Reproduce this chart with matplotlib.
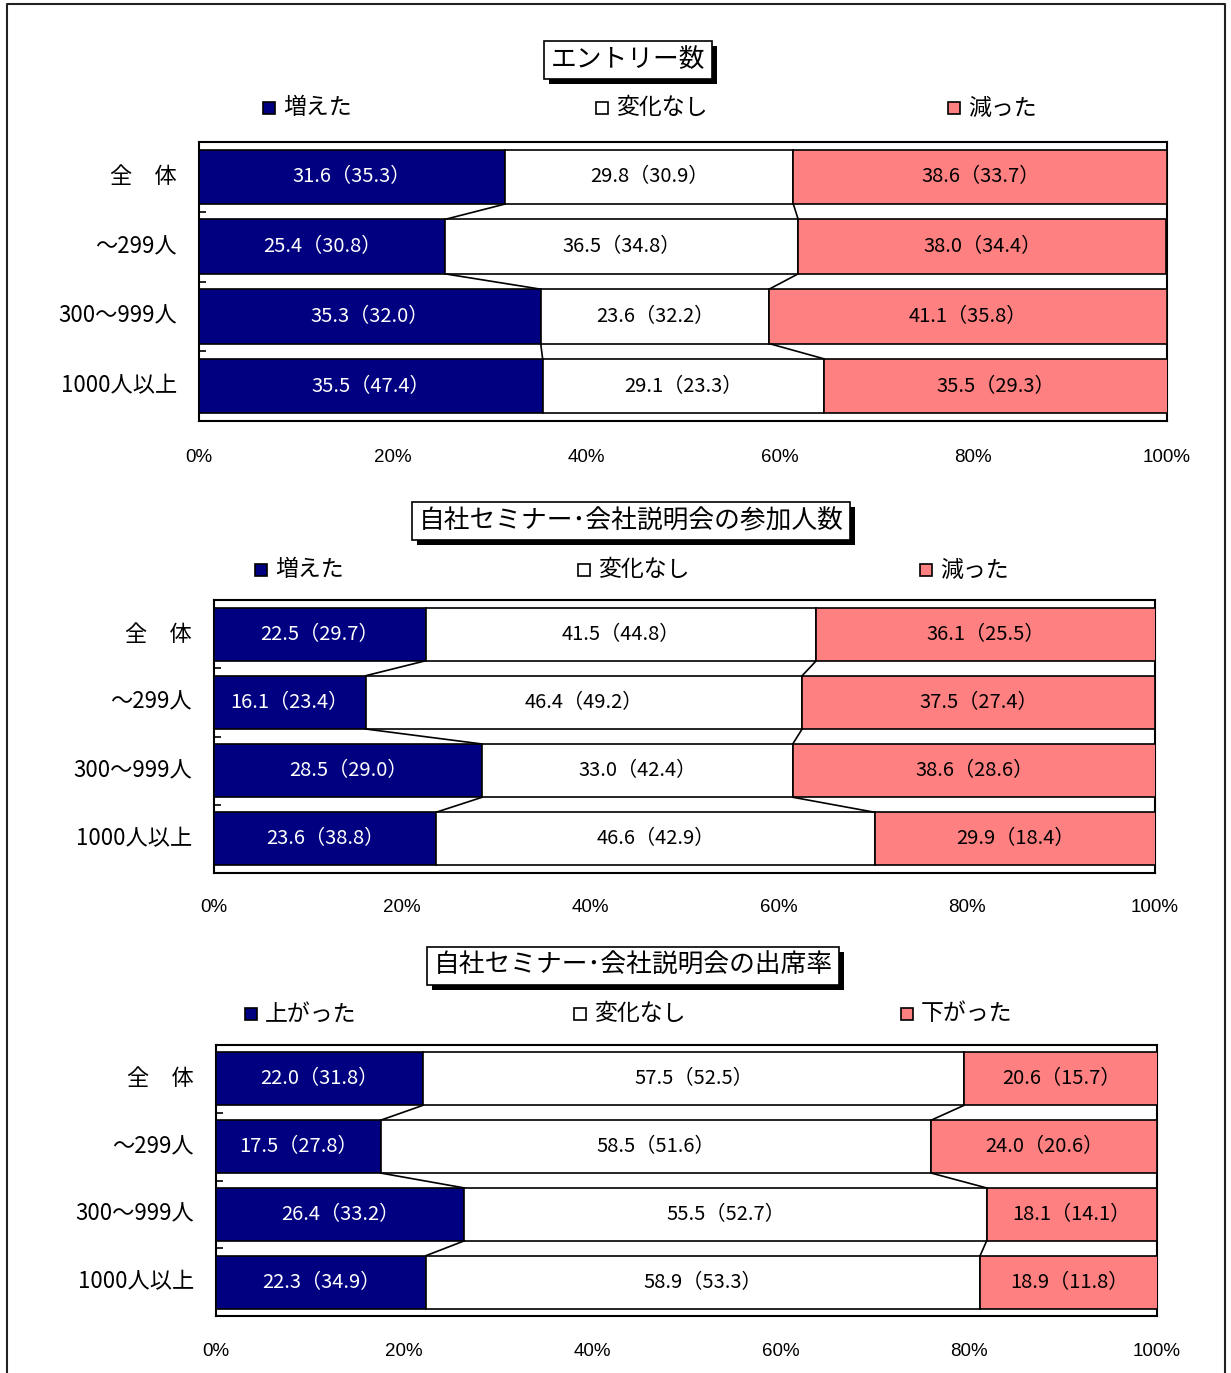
import matplotlib
matplotlib.use("Agg")
import matplotlib.pyplot as plt
from matplotlib.patches import Rectangle

plt.rcParams['font.family'] = ['Noto Sans CJK JP', 'DejaVu Sans']

categories = ["全　体", "～299人", "300～999人", "1000人以上"]

titles = ["エントリー数", "自社セミナー･会社説明会の参加人数", "自社セミナー･会社説明会の出席率"]
legend_labels = [["増えた", "変化なし", "減った"],
                 ["増えた", "変化なし", "減った"],
                 ["上がった", "変化なし", "下がった"]]

# chart 1: entries
c1_up = [31.6, 25.4, 35.3, 35.5]
c1_same = [29.8, 36.5, 23.6, 29.1]
c1_down = [38.6, 38.0, 41.1, 35.5]
c1_up_prev = [35.3, 30.8, 32.0, 47.4]
c1_same_prev = [30.9, 34.8, 32.2, 23.3]
c1_down_prev = [33.7, 34.4, 35.8, 29.3]

# chart 2: participants
c2_up = [22.5, 16.1, 28.5, 23.6]
c2_same = [41.5, 46.4, 33.0, 46.6]
c2_down = [36.1, 37.5, 38.6, 29.9]
c2_up_prev = [29.7, 23.4, 29.0, 38.8]
c2_same_prev = [44.8, 49.2, 42.4, 42.9]
c2_down_prev = [25.5, 27.4, 28.6, 18.4]

# chart 3: attendance rate
c3_up = [22.0, 17.5, 26.4, 22.3]
c3_same = [57.5, 58.5, 55.5, 58.9]
c3_down = [20.6, 24.0, 18.1, 18.9]
c3_up_prev = [31.8, 27.8, 33.2, 34.9]
c3_same_prev = [52.5, 51.6, 52.7, 53.3]
c3_down_prev = [15.7, 20.6, 14.1, 11.8]

xticklabels = ["0%", "20%", "40%", "60%", "80%", "100%"]

charts = [
    (c1_up, c1_same, c1_down, c1_up_prev, c1_same_prev, c1_down_prev),
    (c2_up, c2_same, c2_down, c2_up_prev, c2_same_prev, c2_down_prev),
    (c3_up, c3_same, c3_down, c3_up_prev, c3_same_prev, c3_down_prev),
]

W, H = 1231, 1373
fig = plt.figure(figsize=(W / 100, H / 100), dpi=100)

def px_axes(x0, y0, x1, y1):
    return fig.add_axes([x0 / W, 1 - y1 / H, (x1 - x0) / W, (y1 - y0) / H])

# outer frame
bg = fig.add_axes([0, 0, 1, 1])
bg.set_xlim(0, W); bg.set_ylim(H, 0); bg.axis('off')
bg.plot([7, 7, 1225, 1225], [1373, 4, 4, 1373], color='#222222', lw=1.5)

layout = [
    dict(area=(199, 142, 1167, 421), title=(628, 60), ly=108, lx=[263, 596, 948], ty=457, yr=177),
    dict(area=(214, 600, 1155, 873), title=(631, 521), ly=570, lx=[255, 578, 920], ty=907, yr=192),
    dict(area=(216, 1045, 1157, 1316), title=(633, 966), ly=1014, lx=[245, 574, 901], ty=1352, yr=194),
]

colors = ['#000080', '#FFFFFF', '#FF8080']
txtcolors = ['white', 'black', 'black']
bar_h = 0.78

for ci, (data, lay) in enumerate(zip(charts, layout)):
    up, same, down, upp, samep, downp = data
    x0, y0, x1, y1 = lay['area']
    ax = px_axes(x0, y0, x1, y1)
    n = len(categories)
    ax.set_xlim(0, 100)
    ax.set_ylim(n - 0.5, -0.5)
    ys = list(range(n))
    series = [up, same, down]
    prevs = [upp, samep, downp]
    left = [0.0] * n
    for si in range(3):
        ax.barh(ys, series[si], left=left, height=bar_h, color=colors[si],
                edgecolor='black', linewidth=1.2, zorder=3)
        for i in range(n):
            xc = left[i] + series[si][i] / 2
            ax.text(xc, ys[i], f"{series[si][i]:.1f}（{prevs[si][i]:.1f}）",
                    ha='center', va='center', fontsize=14.5, color=txtcolors[si], zorder=5)
        left = [l + v for l, v in zip(left, series[si])]
        if si < 2:
            for i in range(n - 1):
                ax.plot([left[i], left[i + 1]], [ys[i] + bar_h / 2, ys[i + 1] - bar_h / 2],
                        color='black', lw=1.2, zorder=4)
    ax.set_xticks([0, 20, 40, 60, 80, 100])
    ax.set_xticklabels([])
    ax.tick_params(axis='x', length=0)
    ax.set_yticks([i + 0.5 for i in range(n - 1)])
    ax.set_yticklabels([])
    ax.tick_params(axis='y', direction='in', length=5, width=1.2)
    for s in ax.spines.values():
        s.set_linewidth(1.5)
        s.set_color('black')
    for k, lab in enumerate(xticklabels):
        xp = x0 + (x1 - x0) * k / 5
        bg.text(xp, lay['ty'], lab, ha='center', va='center', fontsize=13.5,
                family=['Liberation Sans', 'DejaVu Sans'])
    for i, cat in enumerate(categories):
        yp = y0 + (y1 - y0) * (i + 0.5) / n
        bg.text(lay['yr'], yp, cat, ha='right', va='center', fontsize=16)
    tx, ty = lay['title']
    t = bg.text(tx, ty, titles[ci], ha='center', va='center', fontsize=18.5, zorder=10,
                bbox=dict(boxstyle='square,pad=0.25', facecolor='white', edgecolor='black', linewidth=1.2))
    fig.canvas.draw()
    pb = t.get_bbox_patch().get_window_extent(renderer=fig.canvas.get_renderer())
    bx0, bx1 = pb.x0, pb.x1
    by_top, by_bot = H - pb.y1, H - pb.y0
    bg.add_patch(Rectangle((bx0 + 5, by_top + 5), bx1 - bx0, by_bot - by_top,
                           facecolor='black', edgecolor='none', zorder=9))
    for k in range(3):
        lx = lay['lx'][k]
        bg.add_patch(Rectangle((lx, lay['ly'] - 6), 12, 12, facecolor=colors[k],
                               edgecolor='black', linewidth=1.2, zorder=5))
        bg.text(lx + 20, lay['ly'], legend_labels[ci][k], ha='left', va='center', fontsize=16.5)

fig.savefig("out.png", dpi=100)
